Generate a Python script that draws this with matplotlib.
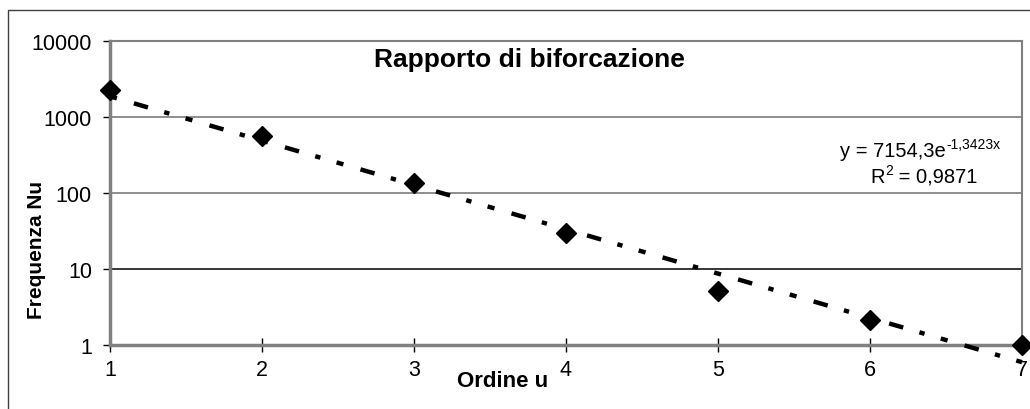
import numpy as np
import matplotlib
matplotlib.use('Agg')
import matplotlib.pyplot as plt
from matplotlib.patches import Rectangle

# Data
ordine = [1, 2, 3, 4, 5, 6, 7]
frequenza = [2300, 570, 135, 30, 5.2, 2.15, 1]

# Trendline as reported on the chart
trend_a = 7154.3
trend_b = -1.3423
eq_main = 'y = 7154,3e'
eq_exp = '-1,3423x'
r2_text = '0,9871'

y_ticks = [1, 10, 100, 1000, 10000]
y_tick_labels = ['1', '10', '100', '1000', '10000']

plt.rcParams['font.family'] = ['Liberation Sans', 'DejaVu Sans']

fig = plt.figure(figsize=(10.3, 4.1), dpi=100)
ax = fig.add_axes([110 / 1030, 1 - 346 / 410, (1022 - 110) / 1030, (346 - 42) / 410])

# outer chart frame (only left/top visible in reference)
fig.patches.append(Rectangle((8 / 1030, -0.1), 1.2, 1 - 11 / 410 + 0.1,
                             transform=fig.transFigure, fill=False,
                             edgecolor='#404040', linewidth=1.0))

ax.set_yscale('log')
ax.set_ylim(1, 10000)
ax.set_xlim(1, 7)

for yv in y_ticks[1:-1]:
    c = 'black' if yv == 10 else '#707070'
    ax.axhline(yv, color=c, linewidth=1.1, zorder=1)

xs = np.linspace(1, 7, 200)
ax.plot(xs, trend_a * np.exp(trend_b * xs), color='black', linewidth=3.2,
        dashes=(1.6, 4.0, 3.3, 3.8, 1.2, 3.8), clip_on=False, zorder=3)
ax.plot(ordine, frequenza, linestyle='none', marker='D', markersize=10,
        color='black', clip_on=False, zorder=4)

ax.set_yticks(y_ticks)
ax.set_yticklabels(y_tick_labels)
ax.yaxis.set_minor_locator(matplotlib.ticker.NullLocator())
ax.set_xticks(ordine)
ax.tick_params(axis='y', direction='out', length=5, width=1, labelsize=15.5, pad=8)
ax.tick_params(axis='x', direction='inout', length=10, width=1, labelsize=15.5, pad=5)

for side in ['left', 'bottom']:
    ax.spines[side].set_color('#808080')
    ax.spines[side].set_linewidth(2.5)
for side in ['top', 'right']:
    ax.spines[side].set_color('#808080')
    ax.spines[side].set_linewidth(1.5)

ax.text(0.46, 0.94, 'Rapporto di biforcazione', transform=ax.transAxes,
        ha='center', va='center', fontsize=19, fontweight='bold')

# trendline equation, superscripts as raised smaller text
eq_base = 1 - 157 / 410
r2_base = 1 - 183 / 410
eq = fig.text(946 / 1030, eq_base, eq_main, ha='right', va='baseline', fontsize=14.5)
ax.annotate(eq_exp, xy=(1, eq_base), xycoords=(eq, 'figure fraction'),
            xytext=(0.5, 5.5), textcoords='offset points',
            ha='left', va='baseline', fontsize=10, annotation_clip=False)
r2 = fig.text(870 / 1030, r2_base, 'R', ha='left', va='baseline', fontsize=14.5)
r2s = ax.annotate('2', xy=(1, r2_base), xycoords=(r2, 'figure fraction'),
                  xytext=(0.3, 5.5), textcoords='offset points',
                  ha='left', va='baseline', fontsize=10, annotation_clip=False)
ax.annotate(' = ' + r2_text, xy=(1, r2_base), xycoords=(r2s, 'figure fraction'),
            ha='left', va='baseline', fontsize=14.5, annotation_clip=False)

fig.text(37 / 1030, 1 - 250 / 410, 'Frequenza Nu', rotation=90, ha='center',
         va='center', fontsize=15, fontweight='bold')
fig.text(503 / 1030, 1 - 382 / 410, 'Ordine u', ha='center', va='center',
         fontsize=16, fontweight='bold')

fig.savefig('out.png', dpi=100)
